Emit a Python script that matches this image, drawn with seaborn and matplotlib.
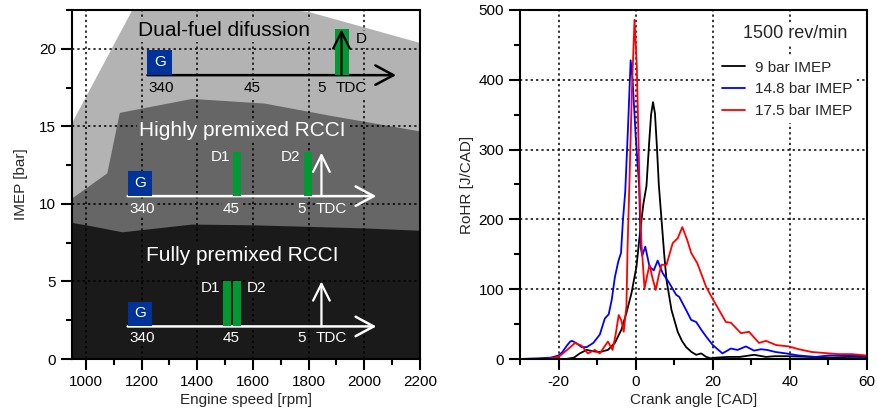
import numpy as np
import pandas as pd
import matplotlib
matplotlib.use("Agg")
import matplotlib.pyplot as plt
import seaborn as sns
from matplotlib.ticker import MultipleLocator
from matplotlib.patches import Rectangle

# ---------------- data ----------------
# Left panel: upper boundaries of the three combustion-mode regions
speed_light = [950, 1170, 1500, 1800, 2200]
imep_light = [15.3, 22.7, 23.0, 22.4, 20.4]
speed_dark = [950, 1075, 1120, 1380, 1640, 1880, 2200]
imep_dark = [10.4, 12.0, 15.9, 16.8, 16.5, 15.7, 14.7]
speed_black = [950, 1000, 1130, 1380, 1600, 1800, 2000, 2200]
imep_black = [8.8, 8.65, 8.2, 8.7, 8.65, 8.55, 8.45, 8.3]
region_names = ["Dual-fuel difussion", "Highly premixed RCCI", "Fully premixed RCCI"]
timeline_labels = ["340", "45", "5", "TDC"]

# Right panel: rate of heat release at 1500 rev/min
cad_9 = [-30, -25, -20, -18, -16, -14.5, -12.7, -11, -9.3, -7.2, -5.4, -3.7, -2.4, -1.1,
         0.2, 1, 2, 2.8, 3.5, 4, 4.5, 5, 5.5, 6, 6.7, 7.4, 8, 9.3, 10.9, 12, 13.1, 14.5,
         15.7, 17, 18.3, 19.5, 21, 24, 27, 30.7, 33.8, 36, 39.7, 45, 51, 55, 60]
rohr_9 = [0, 0, 0, 0, 2, 8, 13, 11, 10, 13, 23, 42, 66, 94,
          132, 175, 222, 248, 310, 350, 368, 352, 305, 250, 200, 150, 113, 70, 39, 26, 17, 10,
          6, 8, 3, 1, 2, 3, 3, 6, 3, 4, 4, 3, 2, 3, 3]
cad_148 = [-30, -25, -22, -20, -19, -18, -17, -16.5, -15.5, -14, -12.7, -11, -9.3, -8, -7,
           -6.2, -5.4, -4.5, -3.8, -3.3, -2.7, -2, -1.3, -0.8, 0, 0.9, 1.3, 1.7, 2.5, 3.6,
           4.7, 5.7, 7, 8.7, 10.5, 11.3, 13.1, 14.4, 15.7, 17, 18.3, 20, 22.5, 24.7, 26.4,
           28.6, 30.7, 32.5, 34.1, 36.3, 39, 42.3, 46.7, 50, 55, 60]
rohr_148 = [0, 1, 2, 5, 10, 18, 25, 26, 23, 17, 17, 23, 35, 58, 64,
            85, 117, 140, 152, 199, 240, 330, 428, 400, 320, 247, 160, 148, 161, 132,
            127, 141, 123, 109, 92, 89, 70, 56, 53, 42, 32, 20, 8, 15, 13,
            18, 12, 14, 13, 10, 8, 5, 3, 5, 5, 4]
cad_175 = [-30, -25, -22, -20, -18, -15.7, -14, -12.4, -10.6, -9.3, -7.2, -6, -5.2, -4.4,
           -3.7, -3.1, -2.4, -2.1, -1.6, -1, -0.3, 0.3, 1, 1.5, 2.3, 3.0, 3.6, 4.4, 5.2, 6,
           6.7, 8, 9.6, 10.9, 12.1, 13.4, 14.4, 16, 18.3, 20.4, 23.4, 24.7, 27.3, 29.4, 32,
           33.8, 36.4, 39.7, 42.3, 45.7, 52.6, 56, 60]
rohr_175 = [0, 0, 1, 3, 12, 23, 19, 8, 13, 8, 25, 13, 35, 63,
            55, 39, 75, 160, 256, 380, 486, 420, 247, 166, 101, 120, 135, 115, 99, 120,
            135, 135, 166, 173, 189, 170, 152, 137, 103, 82, 53, 52, 37, 39, 23,
            26, 20, 18, 14, 10, 7, 7, 5]
series_names = ["9 bar IMEP", "14.8 bar IMEP", "17.5 bar IMEP"]
series_colors = ["#000000", "#0000ff", "#ff0000"]

# ---------------- style ----------------
sns.set_theme(style="ticks")
plt.rcParams["font.family"] = ["Liberation Sans", "DejaVu Sans"]
plt.rcParams["font.size"] = 11
plt.rcParams["axes.unicode_minus"] = False
plt.rcParams["axes.linewidth"] = 1.5
for a in ("xtick", "ytick"):
    plt.rcParams[f"{a}.major.size"] = 8
    plt.rcParams[f"{a}.minor.size"] = 4.5
    plt.rcParams[f"{a}.major.width"] = 1.5
    plt.rcParams[f"{a}.minor.width"] = 1.5
    plt.rcParams[f"{a}.labelsize"] = 11
    plt.rcParams[f"{a}.color"] = "black"
    plt.rcParams[f"{a}.direction"] = "out"

fig = plt.figure(figsize=(8.77, 4.19), dpi=100)
axL = fig.add_axes([72 / 877, 1 - 359 / 419, 348 / 877, 349 / 419])
axR = fig.add_axes([520 / 877, 1 - 359 / 419, 347 / 877, 349 / 419])

c_light, c_dark, c_black = "#b3b3b3", "#666666", "#1a1a1a"
c_blue, c_green = "#003399", "#009933"
grid_kw = dict(color="black", linestyle=(0, (1.5, 2.0)), linewidth=1.1)

# ---------------- left panel ----------------
axL.fill_between(speed_light, 0, imep_light, color=c_light, lw=0, zorder=1)
axL.fill_between(speed_dark, 0, imep_dark, color=c_dark, lw=0, zorder=1.1)
axL.fill_between(speed_black, 0, imep_black, color=c_black, lw=0, zorder=1.2)
axL.set_xlim(950, 2200)
axL.set_ylim(0, 22.5)
axL.xaxis.set_major_locator(MultipleLocator(200))
axL.xaxis.set_minor_locator(MultipleLocator(100))
axL.yaxis.set_major_locator(MultipleLocator(5))
axL.yaxis.set_minor_locator(MultipleLocator(2.5))
axL.set_axisbelow(False)
axL.grid(True, which="major", **grid_kw)
axL.set_xlabel("Engine speed [rpm]", fontsize=11, labelpad=3)
axL.set_ylabel("IMEP [bar]", fontsize=11, labelpad=8)

Z = 5


def label(ax, x, y, s, color, bg, size=11, ha="center"):
    ax.text(x, y, s, color=color, fontsize=size, ha=ha, va="center", zorder=Z + 1,
            bbox=dict(boxstyle="square,pad=0.08", fc=bg, ec="none"))


def harrow(ax, x0, x1, y, color):
    ax.annotate("", xy=(x1, y), xytext=(x0, y), zorder=Z,
                arrowprops=dict(arrowstyle="->,head_length=0.65,head_width=0.35",
                                lw=1.8, color=color, shrinkA=0, shrinkB=0,
                                mutation_scale=20))


def varrow(ax, x, y0, y1, color):
    ax.annotate("", xy=(x, y1), xytext=(x, y0), zorder=Z + 0.5,
                arrowprops=dict(arrowstyle="->,head_length=0.6,head_width=0.3",
                                lw=1.6, color=color, shrinkA=0, shrinkB=0,
                                mutation_scale=20))


def gbox(ax, x0, y0, bg):
    ax.add_patch(Rectangle((x0, y0), 89, 1.6, fc=c_blue, ec="none", zorder=Z + 0.2))
    ax.text(x0 + 44.5, y0 + 0.85, "G", color="white", fontsize=11, ha="center",
            va="center", zorder=Z + 1)


def gbar(ax, x0, width, y0, y1):
    ax.add_patch(Rectangle((x0, y0), width, y1 - y0, fc=c_green, ec="none", zorder=Z + 0.1))


# Dual-fuel diffusion
label(axL, 1496, 21.15, region_names[0], "black", c_light, size=15)
gbar(axL, 1896, 50, 18.3, 21.25)
harrow(axL, 1221, 2114, 18.3, "black")
varrow(axL, 1918, 18.3, 21.25, "black")
gbox(axL, 1221, 18.3, c_light)
for xx, s in zip([1271, 1596, 1846, 1953], timeline_labels):
    label(axL, xx, 17.45, s, "black", c_light)
label(axL, 1989, 20.6, "D", "black", c_light)

# Highly premixed RCCI
label(axL, 1561, 14.7, region_names[1], "white", c_dark, size=15)
gbar(axL, 1529, 28, 10.5, 13.35)
gbar(axL, 1782, 29, 10.5, 13.35)
harrow(axL, 1150, 2043, 10.5, "white")
varrow(axL, 1846, 10.5, 13.3, "white")
gbox(axL, 1150, 10.5, c_dark)
for xx, s in zip([1203, 1523, 1775, 1882], timeline_labels):
    label(axL, xx, 9.7, s, "white", c_dark)
label(axL, 1482, 13.0, "D1", "white", c_dark)
label(axL, 1736, 13.0, "D2", "white", c_dark)

# Fully premixed RCCI
label(axL, 1561, 6.7, region_names[2], "white", c_black, size=15)
gbar(axL, 1493, 28, 2.1, 5.0)
gbar(axL, 1529, 28, 2.1, 5.0)
harrow(axL, 1150, 2043, 2.1, "white")
varrow(axL, 1846, 2.1, 5.0, "white")
gbox(axL, 1150, 2.1, c_black)
for xx, s in zip([1203, 1523, 1775, 1882], timeline_labels):
    label(axL, xx, 1.35, s, "white", c_black)
label(axL, 1446, 4.6, "D1", "white", c_black)
label(axL, 1611, 4.6, "D2", "white", c_black)

# ---------------- right panel ----------------
df = pd.concat([
    pd.DataFrame({"cad": cad_9, "rohr": rohr_9, "series": series_names[0]}),
    pd.DataFrame({"cad": cad_148, "rohr": rohr_148, "series": series_names[1]}),
    pd.DataFrame({"cad": cad_175, "rohr": rohr_175, "series": series_names[2]}),
])
sns.lineplot(data=df, x="cad", y="rohr", hue="series", hue_order=series_names,
             palette=series_colors, sort=False, estimator=None, lw=1.3, ax=axR,
             legend=False)
axR.set_xlim(-30, 60)
axR.set_ylim(0, 500)
axR.xaxis.set_major_locator(MultipleLocator(20))
axR.xaxis.set_minor_locator(MultipleLocator(10))
axR.yaxis.set_major_locator(MultipleLocator(100))
axR.yaxis.set_minor_locator(MultipleLocator(50))
axR.set_axisbelow(True)
axR.grid(True, which="major", **grid_kw)
axR.set_xlabel("Crank angle [CAD]", fontsize=11, labelpad=3)
axR.set_ylabel("RoHR [J/CAD]", fontsize=11, labelpad=3)

handles = [plt.Line2D([], [], color=c, lw=1.3) for c in series_colors]
leg = axR.legend(handles, series_names, loc="upper left", bbox_to_anchor=(0.568, 0.868),
                 frameon=True, fancybox=False, framealpha=1, facecolor="white",
                 edgecolor="none", fontsize=11, handlelength=1.5, handletextpad=0.65,
                 labelspacing=0.5, borderpad=0.3, borderaxespad=0)
leg.set_zorder(6)
axR.text(0.794, 0.932, "1500 rev/min", transform=axR.transAxes, fontsize=13,
         ha="center", va="center", zorder=7,
         bbox=dict(boxstyle="square,pad=0.15", fc="white", ec="none"))

for ax in (axL, axR):
    for sp in ax.spines.values():
        sp.set_visible(True)
        sp.set_color("black")
        sp.set_linewidth(1.5)

fig.savefig("out.png", dpi=100)
